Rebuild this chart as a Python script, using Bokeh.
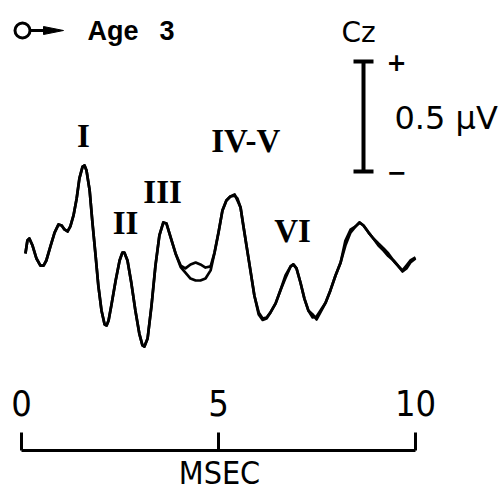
from bokeh.plotting import figure
from bokeh.models import LinearAxis, FixedTicker, Range1d
from bokeh.core.properties import value
from bokeh.embed import file_html
from bokeh.resources import INLINE

# ---------------- data ----------------
time_ms = [0.10, 0.15, 0.20, 0.28, 0.38, 0.48, 0.56, 0.63, 0.74, 0.84,
           0.94, 1.02, 1.09, 1.17, 1.24, 1.32, 1.40, 1.47, 1.55, 1.60,
           1.65, 1.73, 1.80, 1.88, 1.95, 2.03, 2.11, 2.16, 2.21, 2.28,
           2.39, 2.49, 2.56, 2.61, 2.69, 2.79, 2.89, 2.99, 3.07, 3.12,
           3.20, 3.30, 3.40, 3.50, 3.60, 3.68, 3.78, 3.91, 4.04, 4.16,
           4.29, 4.42, 4.54, 4.67, 4.80, 4.90, 5.00, 5.10, 5.20, 5.30,
           5.41, 5.48, 5.56, 5.63, 5.71, 5.81, 5.91, 6.02, 6.12, 6.22,
           6.32, 6.45, 6.57, 6.70, 6.83, 6.90, 6.98, 7.08, 7.18, 7.28,
           7.39, 7.49, 7.59, 7.72, 7.84, 7.97, 8.10, 8.22, 8.35, 8.48,
           8.58, 8.68, 8.81, 8.93, 9.06, 9.19, 9.31, 9.44, 9.57, 9.67,
           9.77, 9.87, 10.00]

run1_uv = [0.032, 0.091, 0.100, 0.068, 0.009, -0.023, -0.023, 0.000, 0.068, 0.127,
           0.164, 0.159, 0.141, 0.132, 0.155, 0.205, 0.282, 0.373, 0.427, 0.432,
           0.409, 0.318, 0.173, 0.023, -0.114, -0.227, -0.291, -0.295, -0.273, -0.205,
           -0.091, 0.000, 0.036, 0.036, 0.000, -0.105, -0.227, -0.332, -0.386, -0.391,
           -0.355, -0.205, -0.023, 0.114, 0.173, 0.168, 0.109, 0.032, -0.023, -0.036,
           -0.018, -0.009, -0.018, -0.032, -0.027, 0.036, 0.127, 0.227, 0.273, 0.291,
           0.295, 0.282, 0.241, 0.159, 0.068, -0.045, -0.159, -0.236, -0.264, -0.259,
           -0.236, -0.195, -0.136, -0.068, -0.027, -0.018, -0.036, -0.100, -0.173, -0.227,
           -0.259, -0.255, -0.227, -0.191, -0.136, -0.068, -0.009, 0.068, 0.127, 0.155,
           0.173, 0.159, 0.127, 0.100, 0.077, 0.055, 0.032, 0.000, -0.027, -0.045,
           -0.023, 0.000, 0.014]

run2_uv = [0.032, 0.091, 0.100, 0.068, 0.009, -0.023, -0.023, 0.000, 0.068, 0.127,
           0.164, 0.159, 0.141, 0.132, 0.155, 0.205, 0.282, 0.373, 0.427, 0.432,
           0.409, 0.318, 0.173, 0.023, -0.114, -0.227, -0.291, -0.295, -0.273, -0.205,
           -0.091, 0.000, 0.036, 0.036, 0.000, -0.105, -0.227, -0.332, -0.386, -0.391,
           -0.355, -0.205, -0.023, 0.114, 0.173, 0.168, 0.109, 0.032, -0.030, -0.055,
           -0.082, -0.091, -0.091, -0.082, -0.045, 0.036, 0.127, 0.227, 0.273, 0.291,
           0.300, 0.273, 0.241, 0.159, 0.068, -0.045, -0.159, -0.245, -0.270, -0.264,
           -0.236, -0.195, -0.136, -0.080, -0.027, -0.018, -0.036, -0.100, -0.173, -0.227,
           -0.245, -0.268, -0.235, -0.191, -0.136, -0.068, -0.009, 0.090, 0.140, 0.155,
           0.173, 0.159, 0.127, 0.100, 0.068, 0.045, 0.020, 0.000, -0.027, -0.050,
           -0.036, -0.009, 0.009]

tick_ms = [0, 5, 10]
tick_labels = ["0", "5", "10"]
peak_labels = ["I", "II", "III", "IV-V", "VI"]
peak_ms = [1.57, 2.64, 3.58, 5.69, 6.88]
scale_bar_uv = 0.5
scale_bar_label = "0.5 \u03bcV"
legend_text = ["Age", "3"]

# ---------------- layout helpers (image pixel -> data) ----------------
X0_PX, PX_PER_MS = 21.0, 39.4
Y0_PX, PX_PER_UV = 260.0, 220.0
FRAME_W = 438          # frame centred on the 5 ms tick so the axis title sits under it


def sx(px):
    return (px - X0_PX) / PX_PER_MS


def sy(py):
    return (Y0_PX - py) / PX_PER_UV


SANS_C = "DejaVu Sans Condensed"

p = figure(frame_width=FRAME_W, frame_height=450,
           x_range=Range1d(sx(0), sx(FRAME_W)), y_range=Range1d(sy(450), sy(0)),
           x_axis_type=None, y_axis_type=None,
           toolbar_location=None, output_backend="svg",
           min_border=0, min_border_left=0, min_border_right=500 - FRAME_W,
           min_border_top=0)
p.outline_line_color = None
p.background_fill_color = "white"
p.border_fill_color = "white"

# time axis: line + ticks pointing up, tick labels lifted above the line, title below
ax = LinearAxis(ticker=FixedTicker(ticks=tick_ms), bounds=(0, 10),
                major_label_overrides={t: s for t, s in zip(tick_ms, tick_labels)},
                axis_line_width=3, axis_line_color="black",
                major_tick_line_width=3, major_tick_line_color="black",
                major_tick_in=18, major_tick_out=0,
                minor_tick_line_color=None,
                major_label_text_font=SANS_C, major_label_text_font_size="36px",
                major_label_text_color="black",
                major_label_standoff=-61,
                axis_label="MSEC", axis_label_standoff=35,
                axis_label_text_font=SANS_C,
                axis_label_text_font_size="32px",
                axis_label_text_font_style="normal",
                axis_label_text_color="black")
p.add_layout(ax, "below")

# traces (two superimposed runs)
for amp in (run1_uv, run2_uv):
    p.line(time_ms, amp, line_color="black", line_width=2.7, line_join="round")

# peak labels
peak_y = [sy(135), sy(222), sy(191), sy(140), sy(230)]
p.text(x=peak_ms, y=peak_y, text=peak_labels, text_align="center",
       text_baseline="middle", text_font=value("Liberation Serif"),
       text_font_style="bold", text_font_size="33px", text_color="black")

# calibration bar
bar_x = sx(363)
bar_top = sy(61)
bar_bot = bar_top - scale_bar_uv
half_cap = 10 / PX_PER_MS
p.segment(x0=[bar_x, bar_x - half_cap, bar_x - half_cap],
          y0=[bar_top, bar_top, bar_bot],
          x1=[bar_x, bar_x + half_cap, bar_x + half_cap],
          y1=[bar_bot, bar_top, bar_bot],
          line_color="black", line_width=4)
p.text(x=[sx(396)], y=[bar_top], text=["+"], text_align="center",
       text_baseline="middle", text_font=value("DejaVu Sans"),
       text_font_style="bold", text_font_size="24px")
p.text(x=[sx(396)], y=[bar_bot], text=["\u2212"], text_align="center",
       text_baseline="middle", text_font=value("DejaVu Sans"),
       text_font_style="bold", text_font_size="24px")

# calibration value: label of a right-hand axis with a single tick at the bar's middle
cal_mid = round((bar_top + bar_bot) / 2, 2)
cal_ax = LinearAxis(ticker=FixedTicker(ticks=[cal_mid]),
                    major_label_overrides={cal_mid: scale_bar_label},
                    axis_line_color=None, major_tick_line_color=None,
                    minor_tick_line_color=None,
                    major_tick_in=0, major_tick_out=0,
                    major_label_standoff=-(FRAME_W - 394),
                    major_label_text_font="DejaVu Sans",
                    major_label_text_font_size="32px",
                    major_label_text_color="black")
p.add_layout(cal_ax, "right")

p.text(x=[sx(358)], y=[sy(32)], text=["Cz"], text_align="center",
       text_baseline="middle", text_font=value("DejaVu Sans"),
       text_font_size="28px")

# legend key: open circle with arrow, then "Age 3"
ly = sy(30)
p.segment(x0=[sx(29)], y0=[ly], x1=[sx(46)], y1=[ly], line_color="black", line_width=3)
p.patch(x=[sx(43), sx(63), sx(43)], y=[sy(26), ly, sy(34)], fill_color="black",
        line_color="black", line_width=1)
p.scatter(x=[sx(22)], y=[ly], marker="circle", size=15, fill_color="white",
          line_color="black", line_width=3)
p.text(x=[sx(87), sx(159)], y=[ly, ly], text=legend_text, text_align="left",
       text_baseline="middle", text_font=value("Liberation Sans"),
       text_font_style="bold", text_font_size="27px")

open("out.html", "w").write(file_html(p, INLINE))
